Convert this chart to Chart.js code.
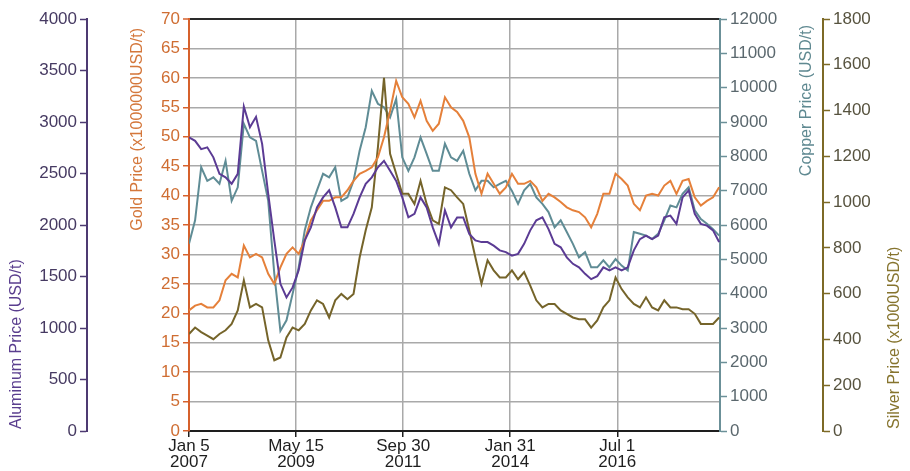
<!DOCTYPE html>
<html>
<head>
<meta charset="utf-8">
<script src="https://cdn.jsdelivr.net/npm/chart.js@4.4.1/dist/chart.umd.min.js"></script>
<style>
  html, body { margin: 0; padding: 0; background: #fff; }
  #wrap { width: 910px; height: 471px; }
</style>
</head>
<body>
<div id="wrap"><canvas id="metalChart" width="910" height="471"></canvas></div>
<script>
// Semanas desde el 5 de enero de 2007 (muestreo de la gráfica)
const weekIndex = [
  0, 7, 14, 21, 28, 35, 42, 49, 56, 63, 70, 77, 84, 91, 98, 105, 112, 119, 126, 133,
  140, 147, 154, 161, 168, 175, 182, 189, 196, 203, 210, 217, 224, 231, 238, 245, 252, 259, 266, 273,
  280, 287, 294, 301, 308, 315, 322, 329, 336, 343, 350, 357, 364, 371, 378, 385, 392, 399, 406, 413,
  420, 427, 434, 441, 448, 455, 462, 469, 476, 483, 490, 497, 504, 511, 518, 525, 532, 539, 546, 553,
  560, 567, 574, 581, 588, 595, 602, 609
];

// Precios (USD/t, x1000000USD/t y x1000USD/t según el eje)
const aluminumPrice = [
  2851, 2817, 2737, 2754, 2657, 2497, 2463, 2400, 2497, 3150, 2948, 3050, 2788, 2303, 1851, 1429, 1297, 1394, 1560, 1851,
  1977, 2171, 2268, 2337, 2171, 1977, 1977, 2108, 2268, 2400, 2463, 2560, 2623, 2526, 2428, 2268, 2074, 2108, 2268, 2171,
  1977, 1817, 2143, 1977, 2074, 2074, 1914, 1851, 1834, 1834, 1800, 1754, 1737, 1703, 1720, 1817, 1948, 2046, 2074, 1960,
  1817, 1783, 1686, 1623, 1589, 1526, 1474, 1503, 1589, 1560, 1589, 1560, 1589, 1754, 1863, 1897, 1863, 1897, 2074, 2091,
  2011, 2268, 2337, 2108, 2011, 1994, 1948, 1834
];
const goldPrice = [
  20.5, 21.3, 21.6, 21.0, 21.0, 22.2, 25.6, 26.7, 26.1, 31.5, 29.5, 30.1, 29.5, 26.7, 25.0, 27.8, 30.1, 31.2, 30.1, 32.4,
  35.8, 37.5, 39.1, 39.1, 39.7, 39.7, 40.9, 42.5, 43.7, 44.2, 44.8, 46.5, 49.9, 54.4, 59.5, 56.7, 55.6, 53.3, 56.1, 52.7,
  51.0, 52.2, 56.7, 55.0, 54.2, 52.7, 49.9, 43.7, 40.3, 43.7, 42.0, 40.3, 41.4, 43.7, 42.0, 42.0, 42.5, 41.4, 39.1, 40.3,
  39.7, 38.9, 38.0, 37.5, 37.2, 36.3, 34.6, 36.9, 40.3, 40.3, 43.7, 42.8, 41.7, 38.6, 37.5, 40.0, 40.3, 40.0, 41.7, 42.5,
  40.3, 42.5, 42.8, 39.7, 38.3, 39.1, 39.7, 41.4
];
const copperPrice = [
  5451, 6137, 7680, 7286, 7389, 7200, 7869, 6703, 7097, 8949, 8554, 8451, 7577, 6703, 4577, 2914, 3223, 3994, 4766, 5846,
  6514, 7011, 7491, 7389, 7680, 6703, 6806, 7286, 8160, 8846, 9909, 9531, 9429, 9137, 9669, 7971, 7577, 7971, 8554, 8074,
  7577, 7577, 8366, 7971, 7869, 8160, 7491, 7011, 7286, 7286, 7097, 7200, 7286, 6994, 6617, 7011, 7200, 6806, 6617, 6377,
  5931, 6137, 5794, 5451, 5057, 5211, 4766, 4766, 4971, 4766, 5006, 4817, 4680, 5794, 5743, 5691, 5589, 5743, 6137, 6566,
  6514, 6909, 7097, 6429, 6171, 6034, 5880, 5691
];
const silverPrice = [
  424, 452, 432, 417, 401, 424, 440, 468, 527, 658, 540, 555, 540, 396, 309, 321, 409, 452, 440, 468,
  527, 571, 555, 496, 571, 599, 576, 599, 758, 877, 977, 1239, 1543, 1211, 1124, 1036, 1036, 992, 1093, 992,
  920, 905, 1064, 1052, 1021, 992, 877, 758, 643, 746, 702, 671, 671, 702, 663, 694, 635, 571, 540, 555,
  555, 527, 512, 496, 488, 488, 452, 483, 540, 571, 671, 620, 584, 555, 540, 584, 540, 527, 571, 540,
  540, 532, 532, 512, 468, 468, 468, 496
];

// Marcas del eje X
const tickWeeks = [0, 123, 246, 369, 492];
const tickDates = [["Jan 5", "2007"], ["May 15", "2009"], ["Sep 30", "2011"], ["Jan 31", "2014"], ["Jul 1", "2016"]];

const FONT = "'Liberation Sans', Arial, sans-serif";
const GRID = "#a9a9a9";
const PURPLE = "#5b3b94";
const ORANGE = "#e5803a";
const TEAL = "#5f8c95";
const OLIVE = "#75642a";

function points(values) {
  return values.map((v, i) => ({ x: weekIndex[i], y: v }));
}

// Fija el ancho de cada eje vertical
function fixWidth(w) {
  return (scale) => { scale.width = w; };
}

function yAxis(opts) {
  return {
    type: "linear",
    position: opts.position,
    weight: opts.weight,
    min: 0,
    max: opts.max,
    afterFit: fixWidth(opts.width),
    ticks: {
      stepSize: opts.step,
      autoSkip: false,
      color: opts.text,
      padding: 3,
      font: { family: FONT, size: 17 },
      callback: (value) => String(value), // sin separador de miles
    },
    grid: {
      drawOnChartArea: false,
      tickColor: opts.border,
      tickLength: 7,
      tickWidth: 1.5,
    },
    border: { color: opts.border, width: 2 },
  };
}

// Títulos de los ejes (todos leen de abajo hacia arriba)
const axisTitles = {
  id: "axisTitles",
  afterDraw(chart) {
    const { ctx, chartArea, scales } = chart;
    const put = (text, color, x, y, align) => {
      ctx.save();
      ctx.translate(x, y);
      ctx.rotate(-Math.PI / 2);
      ctx.font = "16px " + FONT;
      ctx.fillStyle = color;
      ctx.textAlign = align;
      ctx.textBaseline = "middle";
      ctx.fillText(text, 0, 0);
      ctx.restore();
    };
    put("Aluminum Price (USD/t)", "#5a3e8e", scales.yAl.left + 17, chartArea.bottom - 2, "left");
    put("Gold Price (x1000000USD/t)", "#d4773b", scales.yAu.left + 51, chartArea.top + 9, "right");
    put("Copper Price (USD/t)", "#5f8991", scales.yCu.left + 87, chartArea.top + 6, "right");
    put("Silver Price (x1000USD/t)", "#86742e", scales.yAg.left + 72, chartArea.bottom - 2, "left");
  },
};

const ctx = document.getElementById("metalChart").getContext("2d");

new Chart(ctx, {
  type: "line",
  data: {
    datasets: [
      { label: "Aluminum", data: points(aluminumPrice), yAxisID: "yAl", borderColor: PURPLE },
      { label: "Gold", data: points(goldPrice), yAxisID: "yAu", borderColor: ORANGE },
      { label: "Silver", data: points(silverPrice), yAxisID: "yAg", borderColor: OLIVE },
      { label: "Copper", data: points(copperPrice), yAxisID: "yCu", borderColor: TEAL },
    ],
  },
  options: {
    responsive: false,
    animation: false,
    devicePixelRatio: 1,
    layout: { padding: { top: 19, left: 0, right: 0, bottom: 0 } },
    elements: {
      line: { borderWidth: 2, tension: 0 },
      point: { radius: 0 },
    },
    plugins: {
      legend: { display: false },
      tooltip: { enabled: false },
    },
    scales: {
      x: {
        type: "linear",
        position: "bottom",
        min: 0,
        max: 610,
        afterBuildTicks: (scale) => {
          scale.ticks = tickWeeks.map((v) => ({ value: v }));
        },
        afterFit: (scale) => { scale.height = 40; },
        ticks: {
          autoSkip: false,
          maxRotation: 0,
          padding: 1,
          color: "#1e1e1e",
          font: { family: FONT, size: 17, lineHeight: 0.95 },
          callback: (value) => tickDates[tickWeeks.indexOf(value)],
        },
        grid: {
          color: (c) => (c.tick && c.tick.value === 0 ? "rgba(0,0,0,0)" : GRID),
          lineWidth: 1.5,
          tickColor: "#1e1e1e",
          tickLength: 6,
        },
        border: { color: "#1e1e1e", width: 2 },
      },
      yAu: Object.assign(
        yAxis({ position: "left", weight: 0, max: 70, step: 5, width: 102, text: "#cf6d32", border: "#d6612c" }),
        {
          grid: {
            drawOnChartArea: true,
            color: (c) => {
              if (!c.tick) return GRID;
              if (c.tick.value === 70) return "#2a2a2a";
              if (c.tick.value === 0) return "rgba(0,0,0,0)";
              return GRID;
            },
            lineWidth: (c) => (c.tick && c.tick.value === 70 ? 2 : 1.5),
            tickColor: "#d6612c",
            tickLength: 6,
            tickWidth: 1.5,
          },
        }
      ),
      yAl: yAxis({ position: "left", weight: 1, max: 4000, step: 500, width: 87, text: "#463a62", border: "#4d3a72" }),
      yCu: yAxis({ position: "right", weight: 0, max: 12000, step: 1000, width: 103, text: "#5b686e", border: "#6b9098" }),
      yAg: yAxis({ position: "right", weight: 1, max: 1800, step: 200, width: 87, text: "#57533f", border: "#7d6a26" }),
    },
  },
  plugins: [axisTitles],
});
</script>
</body>
</html>
